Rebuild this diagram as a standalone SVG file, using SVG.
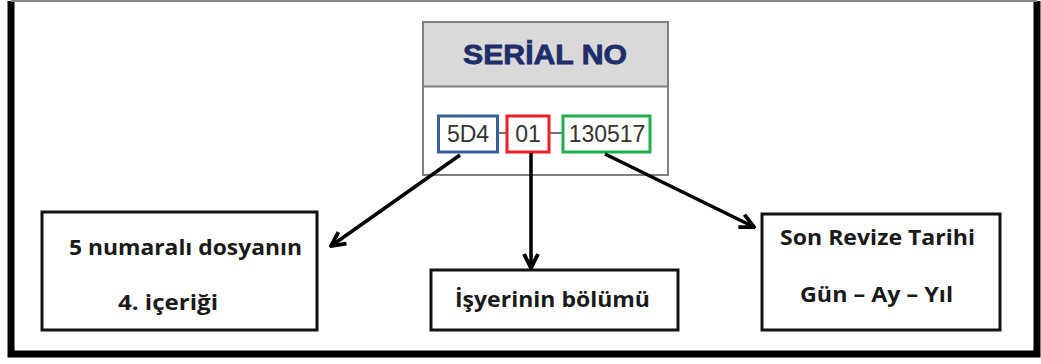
<svg xmlns="http://www.w3.org/2000/svg" width="1041" height="364" viewBox="0 0 1041 364">
<style>
.box{fill:#fff;stroke:#111;stroke-width:3}
.lbl{font-family:"Open Sans",Lato,sans-serif;font-weight:bold;font-size:21px;fill:#1a1a1a}
.code{font-family:"Liberation Sans",Arial,sans-serif;font-size:23px;fill:#333;text-anchor:middle}
.conn{stroke:#000;stroke-width:3.5;fill:none;marker-end:url(#ah)}
</style>
<defs>
<marker id="ah" viewBox="0 0 10 10" refX="9" refY="5" markerWidth="5" markerHeight="5" orient="auto" markerUnits="strokeWidth">
<path d="M1,1 L9,5 L1,9" fill="none" stroke="#000" stroke-width="2.2" stroke-linejoin="miter"/>
</marker>
</defs>
<rect width="1041" height="364" fill="#fff"/>
<g id="frame">
<path d="M11,1 V354 H1037 V1" fill="none" stroke="#000" stroke-width="7"/>
<line x1="11" y1="1" x2="1037" y2="1" stroke="#888" stroke-width="2"/>
</g>
<g id="serial">
<rect x="423" y="22" width="245" height="153" fill="#fff" stroke="#808080" stroke-width="2"/>
<rect x="424" y="23" width="243" height="63" fill="#d9d9d9"/>
<line x1="423" y1="86.5" x2="668" y2="86.5" stroke="#808080" stroke-width="2"/>
<text x="545" y="64" font-family="'Liberation Sans',Arial,sans-serif" font-weight="bold" font-size="28" fill="#1f2d6b" stroke="#1f2d6b" stroke-width="0.8" text-anchor="middle" textLength="164" lengthAdjust="spacingAndGlyphs">SERİAL NO</text>
<line x1="498" y1="133" x2="506" y2="133" stroke="#444" stroke-width="1.5"/>
<line x1="550" y1="133" x2="562" y2="133" stroke="#444" stroke-width="1.5"/>
<rect x="438.5" y="116" width="59" height="36" fill="#fff" stroke="#3a5f96" stroke-width="3"/>
<rect x="507" y="116" width="42" height="36" fill="#fff" stroke="#ee1c24" stroke-width="3"/>
<rect x="563" y="116" width="87" height="36" fill="#fff" stroke="#1fae4b" stroke-width="3"/>
<text class="code" x="468" y="142">5D4</text>
<text class="code" x="528" y="142">01</text>
<text class="code" x="607" y="142">130517</text>
</g>
<g id="connectors">
<line class="conn" x1="460" y1="155" x2="331" y2="246"/>
<line class="conn" x1="531" y1="153" x2="531" y2="268"/>
<line class="conn" x1="605" y1="154" x2="754" y2="227"/>
</g>
<g id="node-left">
<rect class="box" x="42" y="212" width="275" height="118"/>
<text class="lbl" x="69" y="255" textLength="233" lengthAdjust="spacingAndGlyphs">5 numaralı dosyanın</text>
<text class="lbl" x="118" y="310" textLength="100" lengthAdjust="spacingAndGlyphs">4. içeriği</text>
</g>
<g id="node-middle">
<rect class="box" x="431" y="270" width="247" height="60"/>
<text class="lbl" x="455" y="307" textLength="195" lengthAdjust="spacingAndGlyphs">İşyerinin bölümü</text>
</g>
<g id="node-right">
<rect class="box" x="762" y="214" width="238" height="116"/>
<text class="lbl" x="780" y="245" textLength="195" lengthAdjust="spacingAndGlyphs">Son Revize Tarihi</text>
<text class="lbl" x="800" y="302" textLength="153" lengthAdjust="spacingAndGlyphs">Gün – Ay – Yıl</text>
</g>
</svg>
